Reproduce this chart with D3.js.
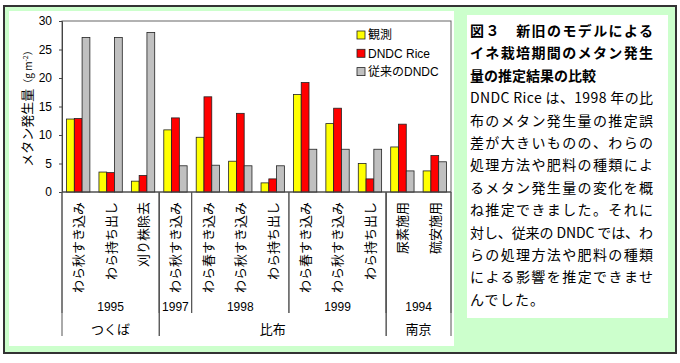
<!DOCTYPE html>
<html>
<head>
<meta charset="utf-8">
<script src="https://cdn.jsdelivr.net/npm/d3@7"></script>
<style>
  body { margin: 0; background: #fff; }
  svg text { fill: #000; }
</style>
</head>
<body>
<div id="chart"></div>
<script>
// categories and grouping
var categories = ["わら秋すき込み", "わら持ち出し", "刈り株除去", "わら秋すき込み",
    "わら春すき込み", "わら秋すき込み", "わら持ち出し",
    "わら春すき込み", "わら秋すき込み", "わら持ち出し",
    "尿素施用", "硫安施用"];
var yearOf = ["1995", "1995", "1995", "1997", "1998", "1998", "1998", "1999", "1999", "1999", "1994", "1994"];
var siteOf = ["つくば", "つくば", "つくば", "比布", "比布", "比布", "比布", "比布", "比布", "比布", "南京", "南京"];

// series values (g m-2)
var observed = [12.8, 3.5, 1.9, 10.9, 9.6, 5.4, 1.6, 17.1, 12.0, 5.0, 7.9, 3.7];
var dndcRice = [12.9, 3.4, 2.9, 13.0, 16.7, 13.8, 2.3, 19.2, 14.7, 2.3, 11.9, 6.4];
var oldDndc = [27.1, 27.1, 28.0, 4.6, 4.7, 4.6, 4.6, 7.5, 7.5, 7.5, 3.7, 5.3];

var seriesNames = ["観測", "DNDC Rice", "従来のDNDC"];
var seriesColors = ["#ffff00", "#ff0000", "#c0c0c0"];
var yTicks = [0, 5, 10, 15, 20, 25, 30];

var titleLines = ["図３　新旧のモデルによる", "イネ栽培期間のメタン発生", "量の推定結果の比較"];
var bodyLines = ["DNDC Rice は、1998 年の比", "布のメタン発生量の推定誤", "差が大きいものの、わらの",
    "処理方法や肥料の種類によ", "るメタン発生量の変化を概", "ね推定できました。それに",
    "対し、従来の DNDC では、わ", "らの処理方法や肥料の種類", "による影響を推定できませ",
    "んでした。"];

var W = 680, H = 363;
var jp = "'Noto Sans CJK JP', sans-serif";
var lat = "'Liberation Sans', Arial, 'Noto Sans CJK JP', sans-serif";

var svg = d3.select("#chart").append("svg")
    .attr("width", W)
    .attr("height", H);

// frame and panels
svg.append("rect")
    .attr("x", 4).attr("y", 6).attr("width", 672).attr("height", 347)
    .attr("fill", "#ccffcc").attr("stroke", "#333").attr("stroke-width", 2);
svg.append("rect")
    .attr("x", 9).attr("y", 11).attr("width", 445).attr("height", 335)
    .attr("fill", "#fff");
svg.append("rect")
    .attr("x", 467).attr("y", 15).attr("width", 201).attr("height", 303)
    .attr("fill", "#fff");

var plot = {left: 62, right: 451, top: 21, bottom: 192};

var x = d3.scaleBand()
    .domain(d3.range(categories.length))
    .range([plot.left, plot.right]);
var bw = x.bandwidth();
var xSeries = d3.scaleBand()
    .domain(d3.range(3))
    .range([bw * 0.14, bw * 0.86]);
var y = d3.scaleLinear()
    .domain([0, 30])
    .range([plot.bottom, plot.top]);

// plot border
svg.append("rect")
    .attr("x", plot.left).attr("y", plot.top)
    .attr("width", plot.right - plot.left).attr("height", plot.bottom - plot.top)
    .attr("fill", "none").attr("stroke", "#666").attr("stroke-width", 1);

// bars
var series = [observed, dndcRice, oldDndc];
series.forEach(function(vals, s) {
    svg.append("g").selectAll("rect")
        .data(vals)
        .enter().append("rect")
        .attr("x", function(d, i) { return x(i) + xSeries(s); })
        .attr("y", function(d) { return y(d); })
        .attr("width", xSeries.bandwidth())
        .attr("height", function(d) { return y(0) - y(d); })
        .attr("fill", seriesColors[s])
        .attr("stroke", "#222")
        .attr("stroke-width", 0.8);
});

// y axis
var yAxis = d3.axisLeft(y).tickValues(yTicks).tickSize(3).tickPadding(7);
var gy = svg.append("g")
    .attr("transform", "translate(" + plot.left + ",0)")
    .call(yAxis);
gy.select(".domain").attr("stroke", "#444");
gy.selectAll(".tick line").attr("stroke", "#444");
gy.selectAll("text").style("font-family", lat).style("font-size", "12px").attr("fill", "#111");

// x axis line
svg.append("line")
    .attr("x1", plot.left).attr("x2", plot.right)
    .attr("y1", y(0)).attr("y2", y(0))
    .attr("stroke", "#444");

// y axis title
var yt = svg.append("text")
    .attr("transform", "translate(27,106) rotate(-90)")
    .attr("text-anchor", "middle")
    .attr("dy", "0.35em")
    .style("font-family", jp)
    .style("font-size", "13px");
yt.append("tspan").text("メタン発生量");
yt.append("tspan").style("font-size", "10px").text("（g m");
yt.append("tspan").style("font-size", "7px").attr("dy", "-0.5em").text("-2");
yt.append("tspan").style("font-size", "10px").attr("dy", "0.35em").text("）");

// category labels
svg.append("g").selectAll("text")
    .data(categories)
    .enter().append("text")
    .attr("transform", function(d, i) { return "translate(" + (x(i) + bw / 2) + ",202) rotate(-90)"; })
    .attr("text-anchor", "end")
    .attr("dy", "0.38em")
    .style("font-family", jp)
    .style("font-size", "13px")
    .text(function(d) { return d; });

// group spans for year and site rows
function spans(arr) {
    var out = [];
    arr.forEach(function(v, i) {
        var last = out[out.length - 1];
        if (last && last.label === v) last.end = i;
        else out.push({label: v, start: i, end: i});
    });
    return out;
}
var yearSpans = spans(yearOf.map(function(v, i) { return siteOf[i] + v; }))
    .map(function(s) { s.label = yearOf[s.start]; return s; });
var siteSpans = spans(siteOf);

function spanLeft(s) { return x(s.start); }
function spanRight(s) { return x(s.end) + bw; }

// separators
var sepColor = "#555";
siteSpans.forEach(function(s) {
    [spanLeft(s), spanRight(s)].forEach(function(px) {
        svg.append("line")
            .attr("x1", px).attr("x2", px)
            .attr("y1", y(0)).attr("y2", 336)
            .attr("stroke", sepColor);
    });
});
yearSpans.forEach(function(s) {
    [spanLeft(s), spanRight(s)].forEach(function(px) {
        svg.append("line")
            .attr("x1", px).attr("x2", px)
            .attr("y1", y(0)).attr("y2", 313)
            .attr("stroke", sepColor);
    });
});

svg.append("g").selectAll("text")
    .data(yearSpans)
    .enter().append("text")
    .attr("x", function(s) { return (spanLeft(s) + spanRight(s)) / 2; })
    .attr("y", 311)
    .attr("text-anchor", "middle")
    .style("font-family", lat)
    .style("font-size", "12px")
    .text(function(s) { return s.label; });

svg.append("g").selectAll("text")
    .data(siteSpans)
    .enter().append("text")
    .attr("x", function(s) { return (spanLeft(s) + spanRight(s)) / 2; })
    .attr("y", 334)
    .attr("text-anchor", "middle")
    .style("font-family", jp)
    .style("font-size", "13px")
    .text(function(s) { return s.label; });

// legend
var legend = svg.append("g").attr("transform", "translate(357,35)");
seriesNames.forEach(function(name, i) {
    var row = legend.append("g").attr("transform", "translate(0," + (i * 18.3) + ")");
    row.append("rect")
        .attr("x", 0).attr("y", -4).attr("width", 8).attr("height", 8)
        .attr("fill", seriesColors[i]).attr("stroke", "#222").attr("stroke-width", 0.8);
    row.append("text")
        .attr("x", 11).attr("y", 0).attr("dy", "0.36em")
        .style("font-family", lat)
        .style("font-size", "12px")
        .text(name);
});

// caption panel
var lineH = 22.4;
var cap = svg.append("g");
titleLines.forEach(function(t, i) {
    cap.append("text")
        .attr("x", 470).attr("y", 36 + i * lineH)
        .attr("textLength", i < 2 ? 183 : null)
        .attr("lengthAdjust", "spacing")
        .style("font-family", jp)
        .style("font-weight", "bold")
        .style("font-size", "14px")
        .text(t);
});
bodyLines.forEach(function(t, i) {
    cap.append("text")
        .attr("x", 470).attr("y", 36 + (i + 3) * lineH)
        .attr("textLength", i < bodyLines.length - 1 ? 183 : null)
        .attr("lengthAdjust", "spacing")
        .style("font-family", jp)
        .style("font-size", "14px")
        .style("letter-spacing", i === bodyLines.length - 1 ? "1.2px" : null)
        .text(t);
});
</script>
</body>
</html>
